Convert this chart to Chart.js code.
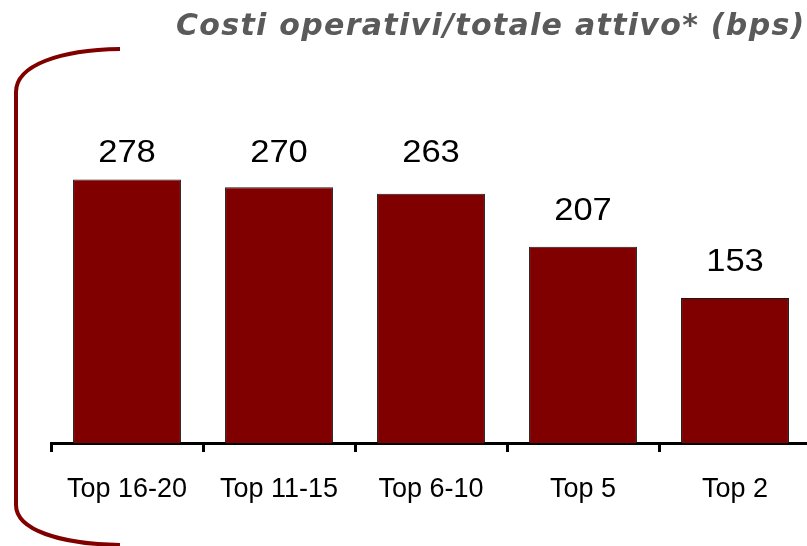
<!DOCTYPE html>
<html>
<head>
<meta charset="utf-8">
<script src="https://cdn.jsdelivr.net/npm/chart.js@4/dist/chart.umd.min.js"></script>
<style>
  html, body { margin: 0; padding: 0; background: #fff; overflow: hidden; }
  #wrap { position: relative; width: 812px; height: 546px; }
</style>
</head>
<body>
<div id="wrap"><canvas id="chart" width="812" height="546"></canvas></div>
<script>
const categories = ["Top 16-20", "Top 11-15", "Top 6-10", "Top 5", "Top 2"];
const costRatio = [278, 270, 263, 207, 153];
const chartTitle = "Costi operativi/totale attivo* (bps)";

const BAR_RED = "#800000";
const FONT = '"Liberation Sans", Arial, sans-serif';

// curly bracket on the left side of the panel
const bracket = {
  id: "bracket",
  beforeDraw(chart) {
    const ctx = chart.ctx;
    ctx.save();
    ctx.strokeStyle = BAR_RED;
    ctx.lineWidth = 4;
    ctx.beginPath();
    ctx.moveTo(120, 49);
    ctx.bezierCurveTo(60, 50, 16, 65, 16, 92);
    ctx.lineTo(16, 505);
    ctx.bezierCurveTo(16, 530, 60, 544, 120, 545);
    ctx.stroke();
    ctx.restore();
  },
};

// italic heading at the top right
const heading = {
  id: "heading",
  afterDraw(chart) {
    const ctx = chart.ctx;
    ctx.save();
    ctx.font = 'italic bold 30px "DejaVu Sans", Verdana, sans-serif';
    ctx.fillStyle = "#5a5a5a";
    ctx.letterSpacing = "1.3px";
    ctx.textAlign = "left";
    ctx.textBaseline = "alphabetic";
    ctx.fillText(chartTitle, 176, 35);
    ctx.restore();
  },
};

// numbers above each bar; labels of bars close to the tallest one share its row
const valueLabels = {
  id: "valueLabels",
  afterDatasetsDraw(chart) {
    const ctx = chart.ctx;
    const bars = chart.getDatasetMeta(0).data;
    const topY = Math.min(...bars.map((b) => b.y));
    ctx.save();
    ctx.font = "32px " + FONT;
    ctx.fillStyle = "#000";
    ctx.textAlign = "center";
    ctx.textBaseline = "alphabetic";
    bars.forEach((bar, i) => {
      const y = bar.y - topY < 20 ? topY - 18 : bar.y - 27;
      ctx.save();
      ctx.translate(bar.x, y);
      ctx.scale(1.08, 1);
      ctx.fillText(String(costRatio[i]), 0, 0);
      ctx.restore();
    });
    ctx.restore();
  },
};

new Chart(document.getElementById("chart"), {
  type: "bar",
  data: {
    labels: categories,
    datasets: [
      {
        data: costRatio,
        backgroundColor: BAR_RED,
        borderColor: "#1a1a1a",
        borderWidth: 1,
        barPercentage: 0.71,
        categoryPercentage: 1,
      },
    ],
  },
  options: {
    responsive: false,
    devicePixelRatio: 1,
    animation: false,
    layout: { padding: { left: 51, right: 1, top: 64, bottom: 0 } },
    plugins: {
      legend: { display: false },
      title: { display: false },
      tooltip: { enabled: false },
    },
    scales: {
      x: {
        afterFit: (s) => { s.height = 103; },
        grid: {
          offset: true,
          drawOnChartArea: false,
          drawTicks: true,
          tickLength: 9,
          tickWidth: 3,
          tickColor: "#000",
        },
        border: { display: true, color: "#000", width: 3 },
        ticks: {
          color: "#000",
          font: { family: FONT, size: 27 },
          padding: 21,
          maxRotation: 0,
          autoSkip: false,
        },
      },
      y: {
        display: false,
        min: 0,
        max: 400,
      },
    },
  },
  plugins: [bracket, heading, valueLabels],
});
</script>
</body>
</html>
